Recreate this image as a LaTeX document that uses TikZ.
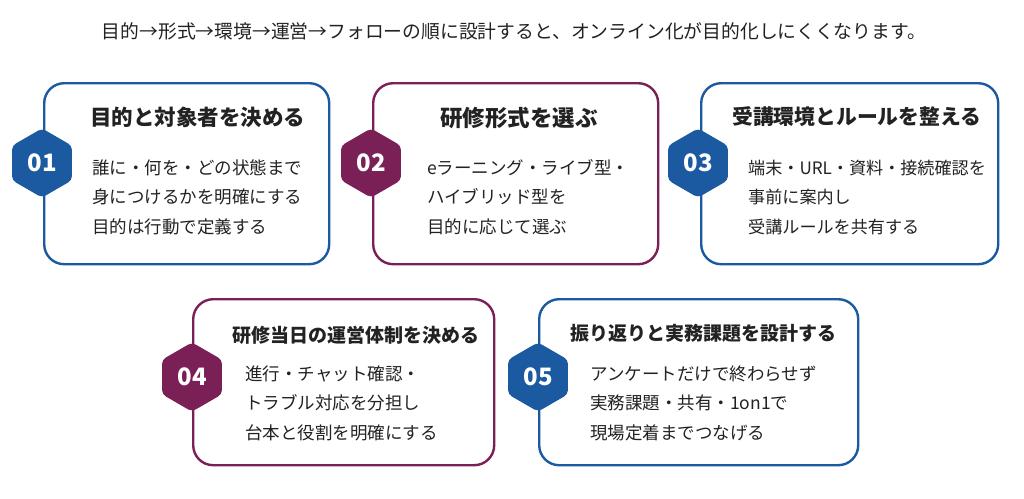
\documentclass[tikz,border=0pt]{standalone}
\usepackage{fontspec}
\setmainfont{Noto Sans CJK JP}
\usetikzlibrary{shapes.geometric}
\definecolor{cblue}{HTML}{1B5AA0}
\definecolor{cpurple}{HTML}{7A2057}
\definecolor{ctext}{HTML}{222222}
\tikzset{
  card/.style={draw=#1, line width=2.4pt, rounded corners=20pt, fill=white, anchor=north west, inner sep=0pt},
  hexa/.style={regular polygon, regular polygon sides=6, shape border rotate=30, fill=#1, draw=#1, line width=1pt, rounded corners=4pt, minimum size=68pt, inner sep=0pt, text=white, font=\fontsize{24}{24}\selectfont\bfseries},
  ttl/.style={anchor=west, inner sep=0pt, text=ctext, font=\fontsize{#1}{24}\selectfont\bfseries},
  bdy/.style={anchor=west, inner sep=0pt, text=ctext, align=left, font=\fontsize{#1}{29.5}\selectfont},
  bdy/.default=17.5,
}
\begin{document}
\begin{tikzpicture}[x=1pt, y=-1pt]
\useasboundingbox[fill=white] (0,0) rectangle (1024,498);
\node[inner sep=0pt, text=ctext, font=\fontsize{18.8}{20}\selectfont] (head) at (514,31) {目的→形式→環境→運営→フォローの順に設計すると、オンライン化が目的化しにくくなります。};
% cards
\node[card=cblue, minimum width=285pt, minimum height=181pt] (c1) at (43,82) {};
\node[card=cpurple, minimum width=285pt, minimum height=181pt] (c2) at (372,82) {};
\node[card=cblue, minimum width=297pt, minimum height=181pt] (c3) at (700,82) {};
\node[card=cpurple, minimum width=301pt, minimum height=166pt] (c4) at (192,298) {};
\node[card=cblue, minimum width=319pt, minimum height=166pt] (c5) at (538,298) {};
% hexagons
\node[hexa=cblue] (h1) at (42,163) {01};
\node[hexa=cpurple] (h2) at (371,163) {02};
\node[hexa=cblue] (h3) at (698,163) {03};
\node[hexa=cpurple] (h4) at (192,377) {04};
\node[hexa=cblue] (h5) at (538,377) {05};
% titles
\node[ttl=21.5] (t1) at (90,117) {目的と対象者を決める};
\node[ttl=22.5] (t2) at (440,118) {研修形式を選ぶ};
\node[ttl=20.8] (t3) at (732,117) {受講環境とルールを整える};
\node[ttl=19] (t4) at (232,335) {研修当日の運営体制を決める};
\node[ttl=19] (t5) at (570,333) {振り返りと実務課題を設計する};
% bodies
\node[bdy] (b1) at (92,197) {誰に・何を・どの状態まで\\身につけるかを明確にする\\目的は行動で定義する};
\node[bdy] (b2) at (427,197) {eラーニング・ライブ型・\\ハイブリッド型を\\目的に応じて選ぶ};
\node[bdy=17.1] (b3) at (748,197) {端末・URL・資料・接続確認を\\事前に案内し\\受講ルールを共有する};
\node[bdy] (b4) at (245,403) {進行・チャット確認・\\トラブル対応を分担し\\台本と役割を明確にする};
\node[bdy] (b5) at (590,403) {アンケートだけで終わらせず\\実務課題・共有・1on1で\\現場定着までつなげる};
\end{tikzpicture}
\end{document}
